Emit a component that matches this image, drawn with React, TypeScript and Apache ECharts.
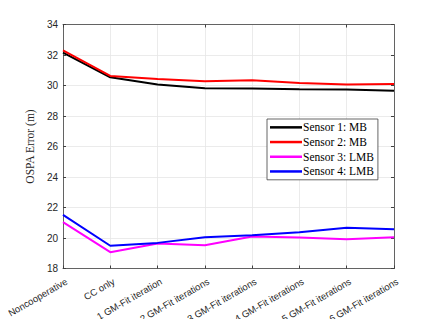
import React, { useEffect, useRef } from "react";
import * as echarts from "echarts";

const categories = [
  "Noncooperative",
  "CC only",
  "1 GM-Fit iteration",
  "2 GM-Fit iterations",
  "3 GM-Fit iterations",
  "4 GM-Fit iterations",
  "5 GM-Fit iterations",
  "6 GM-Fit iterations",
];

const sensor1MB = [32.15, 30.54, 30.06, 29.82, 29.8, 29.75, 29.73, 29.66];
const sensor2MB = [32.3, 30.63, 30.43, 30.28, 30.34, 30.17, 30.06, 30.1];
const sensor3LMB = [21.04, 19.07, 19.64, 19.53, 20.1, 20.03, 19.92, 20.05];
const sensor4LMB = [21.52, 19.49, 19.68, 20.05, 20.18, 20.38, 20.68, 20.58];

const seriesNames = ["Sensor 1: MB", "Sensor 2: MB", "Sensor 3: LMB", "Sensor 4: LMB"];
const seriesColors = ["#000000", "#ff0000", "#ff00ff", "#0000ff"];
const seriesData = [sensor1MB, sensor2MB, sensor3LMB, sensor4LMB];

const yTicks = { min: 18, max: 34, interval: 2 };

export default function App() {
  const ref = useRef<HTMLDivElement>(null);
  useEffect(() => {
    if (!ref.current) return;
    const chart = echarts.init(ref.current, undefined, { renderer: "svg" });
    const axisColor = "#404040";
    const sans = "'Liberation Sans', Arial, sans-serif";
    const serif = "'Liberation Serif', 'Times New Roman', serif";
    chart.setOption({
      animation: false,
      backgroundColor: "#ffffff",
      grid: { left: 63, right: 42, top: 24.5, bottom: 58.5, containLabel: false },
      legend: {
        orient: "vertical",
        left: 267,
        top: 119,
        width: 116,
        data: seriesNames,
        icon: "rect",
        itemWidth: 32,
        itemHeight: 2.5,
        itemGap: 2,
        padding: [2, 4, 2, 3],
        backgroundColor: "#ffffff",
        borderColor: "#404040",
        borderWidth: 0.8,
        borderRadius: 0,
        textStyle: {
          fontFamily: serif,
          fontSize: 11.5,
          color: "#000000",
          lineHeight: 12.7,
          padding: [0, 0, 0, -4],
        },
      },
      xAxis: [
        {
          type: "category",
          data: categories,
          boundaryGap: false,
          axisLine: { show: true, lineStyle: { color: axisColor, width: 0.8 } },
          axisTick: { show: true, inside: true, length: 3, lineStyle: { color: axisColor } },
          axisLabel: {
            rotate: 30,
            fontFamily: sans,
            fontSize: 9.5,
            color: "#262626",
            margin: 14,
            interval: 0,
            padding: [0, -4, 0, 0],
          },
          splitLine: { show: true, lineStyle: { color: "#e6e6e6", width: 0.8 } },
        },
        {
          type: "category",
          data: categories,
          boundaryGap: false,
          position: "top",
          axisLine: { show: true, lineStyle: { color: axisColor, width: 0.8 } },
          axisTick: { show: true, inside: true, length: 3, lineStyle: { color: axisColor } },
          axisLabel: { show: false },
          splitLine: { show: false },
        },
      ],
      yAxis: [
        {
          type: "value",
          min: yTicks.min,
          max: yTicks.max,
          interval: yTicks.interval,
          name: "OSPA Error (m)",
          nameLocation: "middle",
          nameGap: 11,
          nameTextStyle: { fontFamily: serif, fontSize: 11.5, color: "#262626" },
          axisLine: { show: true, lineStyle: { color: axisColor, width: 0.8 } },
          axisTick: { show: true, inside: true, length: 3, lineStyle: { color: axisColor } },
          axisLabel: { fontFamily: sans, fontSize: 10, color: "#262626", margin: 5 },
          splitLine: { show: true, lineStyle: { color: "#e6e6e6", width: 0.8 } },
        },
        {
          type: "value",
          min: yTicks.min,
          max: yTicks.max,
          interval: yTicks.interval,
          position: "right",
          axisLine: { show: true, lineStyle: { color: axisColor, width: 0.8 } },
          axisTick: { show: true, inside: true, length: 3, lineStyle: { color: axisColor } },
          axisLabel: { show: false },
          splitLine: { show: false },
        },
      ],
      series: seriesData.map((d, i) => ({
        name: seriesNames[i],
        type: "line",
        data: d,
        xAxisIndex: 0,
        yAxisIndex: 0,
        showSymbol: false,
        symbol: "none",
        itemStyle: { color: seriesColors[i] },
        lineStyle: { color: seriesColors[i], width: 2 },
      })),
    });
    return () => chart.dispose();
  }, []);
  return <div ref={ref} style={{ width: 436, height: 327, margin: -8 }} />;
}
